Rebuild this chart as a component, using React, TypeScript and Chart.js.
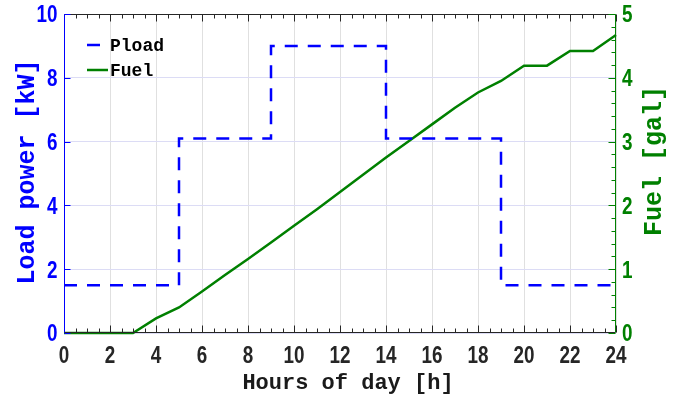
import React, { useEffect, useRef } from "react";
import { Chart, registerables } from "chart.js";

Chart.register(...registerables);

const ploadHours = [0, 5, 9, 14, 19, 24];
const ploadValues = [1.5, 6.1, 9, 6.1, 1.5, 1.5];
const fuelHours = [0, 1, 2, 3, 4, 5, 6, 7, 8, 9, 10, 11, 12, 13, 14, 15, 16, 17, 18, 19, 20, 21, 22, 23, 24];
const fuelValues = [0, 0, 0, 0, 0.23, 0.4, 0.65, 0.91, 1.16, 1.42, 1.68, 1.94, 2.21, 2.48, 2.75, 3.01, 3.27, 3.53, 3.77, 3.95, 4.19, 4.19, 4.42, 4.42, 4.67];
const xTitle = "Hours of day [h]";
const yTitle = "Load power [kW]";
const y2Title = "Fuel [gal]";
const seriesNames = ["Pload", "Fuel"];

const BLUE = "#0000ff";
const GREEN = "#008000";
const DARK = "#262626";
const TICK_FONT = "bold 23px 'Liberation Sans', Arial, sans-serif";
const NARROW = 0.82;
const MONO = "'Liberation Mono', 'Courier New', monospace";

function narrowText(ctx: any, text: string, x: number, y: number) {
  ctx.save();
  ctx.scale(NARROW, 1);
  ctx.fillText(text, x / NARROW, y);
  ctx.restore();
}

const decor = {
  id: "decor",
  afterDatasetsDraw(chart: any) {
    const { ctx, chartArea: a, scales } = chart;
    const x = scales.x, y = scales.y, y2 = scales.y2;
    const L = Math.round(a.left) + 0.5, R = Math.round(a.right) - 0.5;
    const T = Math.round(a.top) + 0.5, B = Math.round(a.bottom) - 0.5;
    ctx.save();
    ctx.lineWidth = 1;
    ctx.strokeStyle = DARK;
    ctx.beginPath();
    ctx.moveTo(L, B); ctx.lineTo(R, B);
    ctx.moveTo(L, T); ctx.lineTo(R, T);
    for (let v = 0; v <= 24.001; v += 0.5) {
      const px = Math.round(x.getPixelForValue(v)) + 0.5;
      const len = Math.abs(v % 2) < 1e-6 ? 7 : 4;
      ctx.moveTo(px, B); ctx.lineTo(px, B - len);
      ctx.moveTo(px, T); ctx.lineTo(px, T + len);
    }
    ctx.stroke();
    ctx.strokeStyle = BLUE;
    ctx.beginPath();
    ctx.moveTo(L, T); ctx.lineTo(L, B);
    for (let v = 0; v <= 10.001; v += 2) {
      const py = Math.round(y.getPixelForValue(v)) + 0.5;
      ctx.moveTo(L, py); ctx.lineTo(L + 6, py);
    }
    ctx.stroke();
    ctx.strokeStyle = GREEN;
    ctx.beginPath();
    ctx.moveTo(R, T); ctx.lineTo(R, B);
    for (let i = 0; i <= 25; i++) {
      const v = i * 0.2;
      const py = Math.round(y2.getPixelForValue(v)) + 0.5;
      const len = i % 5 === 0 ? 7 : 4;
      ctx.moveTo(R, py); ctx.lineTo(R - len, py);
    }
    ctx.stroke();

    // tick labels (from the scales' own ticks)
    ctx.font = TICK_FONT;
    ctx.textBaseline = "alphabetic";
    ctx.fillStyle = DARK;
    ctx.textAlign = "center";
    x.ticks.forEach((t: any) => {
      narrowText(ctx, String(t.value), x.getPixelForValue(t.value), 362.5);
    });
    ctx.fillStyle = BLUE;
    ctx.textAlign = "right";
    y.ticks.forEach((t: any) => {
      narrowText(ctx, String(t.value), 57.5, y.getPixelForValue(t.value) + 8.3);
    });
    ctx.fillStyle = GREEN;
    ctx.textAlign = "left";
    y2.ticks.forEach((t: any) => {
      narrowText(ctx, String(t.value), 622, y2.getPixelForValue(t.value) + 8.3);
    });

    const ds = chart.data.datasets;
    const legendY = [45, 70];
    ctx.font = `bold 18px ${MONO}`;
    ctx.textBaseline = "middle";
    ctx.textAlign = "left";
    ds.forEach((d: any, i: number) => {
      ctx.strokeStyle = d.borderColor;
      ctx.lineWidth = d.borderWidth;
      ctx.setLineDash(d.borderDash || []);
      ctx.beginPath();
      ctx.moveTo(87, legendY[i]);
      ctx.lineTo(108, legendY[i]);
      ctx.stroke();
      ctx.setLineDash([]);
      ctx.fillStyle = "#000";
      ctx.fillText(seriesNames[i], 110, legendY[i] + 1);
    });

    ctx.textAlign = "center";
    ctx.textBaseline = "middle";
    ctx.font = `bold 22px ${MONO}`;
    ctx.fillStyle = "#1a1a1a";
    ctx.fillText(xTitle, 348, 383);
    ctx.font = `bold 25px ${MONO}`;
    ctx.save();
    ctx.translate(28, 172);
    ctx.rotate(-Math.PI / 2);
    ctx.fillStyle = BLUE;
    ctx.fillText(yTitle, 0, 0);
    ctx.restore();
    ctx.save();
    ctx.translate(655, 161);
    ctx.rotate(-Math.PI / 2);
    ctx.fillStyle = GREEN;
    ctx.fillText(y2Title, 0, 0);
    ctx.restore();
    ctx.restore();
  },
};

const noPad = (s: any) => { s.paddingTop = 0; s.paddingBottom = 0; };

export default function App() {
  const ref = useRef<HTMLCanvasElement>(null);
  useEffect(() => {
    if (!ref.current) return;
    const chart = new Chart(ref.current, {
      type: "line",
      data: {
        datasets: [
          {
            label: seriesNames[0],
            data: ploadHours.map((h, i) => ({ x: h, y: ploadValues[i] })),
            yAxisID: "y",
            borderColor: BLUE,
            borderWidth: 2.5,
            borderDash: [13, 10],
            stepped: "before",
            pointRadius: 0,
            fill: false,
          },
          {
            label: seriesNames[1],
            data: fuelHours.map((h, i) => ({ x: h, y: fuelValues[i] })),
            yAxisID: "y2",
            borderColor: GREEN,
            borderWidth: 2.5,
            pointRadius: 0,
            fill: false,
            clip: false,
          } as any,
        ],
      },
      options: {
        responsive: false,
        animation: false,
        layout: { padding: { top: 14, left: 0, right: 0, bottom: 0 } },
        plugins: { legend: { display: false }, tooltip: { enabled: false } },
        scales: {
          x: {
            type: "linear",
            min: 0,
            max: 24,
            ticks: { stepSize: 2, display: false, maxRotation: 0 },
            grid: { color: "#e0e0e0", drawTicks: false },
            border: { display: false },
            afterFit: (s: any) => { s.height = 66; s.paddingLeft = 0; s.paddingRight = 0; },
          },
          y: {
            type: "linear",
            position: "left",
            min: 0,
            max: 10,
            ticks: { stepSize: 2, display: false },
            grid: { color: "#dcdcf5", drawTicks: false },
            border: { display: false },
            afterFit: (s: any) => { s.width = 64; noPad(s); },
          },
          y2: {
            type: "linear",
            position: "right",
            min: 0,
            max: 5,
            ticks: { stepSize: 1, display: false },
            grid: { display: false, drawTicks: false },
            border: { display: false },
            afterFit: (s: any) => { s.width = 79; noPad(s); },
          },
        },
      } as any,
      plugins: [decor],
    });
    return () => chart.destroy();
  }, []);
  return (
    <div style={{ position: "fixed", left: 0, top: 0, width: 695, height: 399, background: "#fff" }}>
      <canvas ref={ref} width={695} height={399} style={{ display: "block" }} />
    </div>
  );
}
